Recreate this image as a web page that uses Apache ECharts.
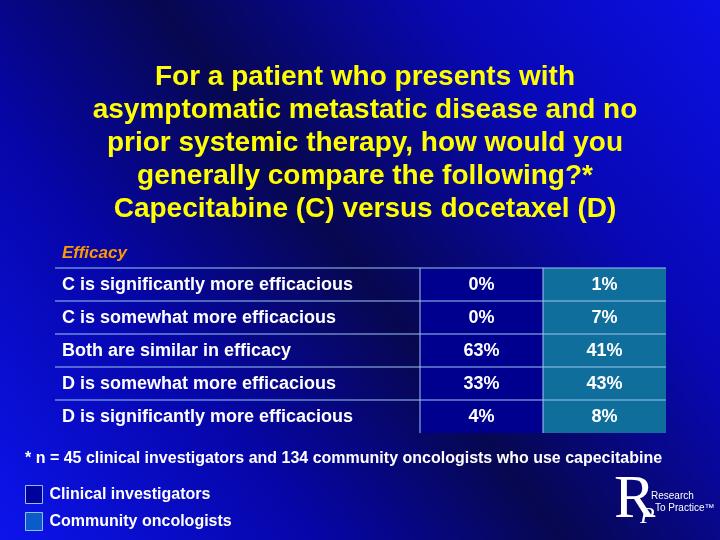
<!DOCTYPE html>
<html>
<head>
<meta charset="utf-8">
<script src="https://cdn.jsdelivr.net/npm/echarts@6/dist/echarts.min.js"></script>
<style>html,body{margin:0;padding:0;background:#000}#c{width:720px;height:540px}</style>
</head>
<body>
<div id="c"></div>
<script>
const titleText = 'For a patient who presents with\nasymptomatic metastatic disease and no\nprior systemic therapy, how would you\ngenerally compare the following?*\nCapecitabine (C) versus docetaxel (D)';
const sectionLabel = 'Efficacy';
const answers = [
  'C is significantly more efficacious',
  'C is somewhat more efficacious',
  'Both are similar in efficacy',
  'D is somewhat more efficacious',
  'D is significantly more efficacious'
];
const groups = ['Clinical investigators', 'Community oncologists'];
const clinicalValues = [0, 0, 63, 33, 4];
const communityValues = [1, 7, 41, 43, 8];
const footnote = '* n = 45 clinical investigators and 134 community oncologists who use capecitabine';

const LINE = '#9cc8f0';
const FONT = 'Liberation Sans, Arial, sans-serif';
const colFill = ['#00008e', '#0f6e9c'];
const legendFill = ['#00009a', '#0a5cc8'];

const chart = echarts.init(document.getElementById('c'), null, {renderer: 'canvas'});

function answerRender(params, api) {
  const p = api.coord([api.value(0), api.value(1)]);
  const s = api.size([1, 1]);
  const x0 = p[0] - s[0] / 2, y0 = p[1] - s[1] / 2;
  return {
    type: 'group',
    children: [
      {type: 'line', shape: {x1: x0, y1: y0, x2: x0 + s[0], y2: y0}, style: {stroke: LINE, lineWidth: 1}},
      {type: 'text', style: {x: x0 + 7, y: p[1] + 1, text: answers[api.value(1)], fill: '#ffffff',
        font: 'bold 18px ' + FONT, textAlign: 'left', textVerticalAlign: 'middle'}}
    ]
  };
}

function valueRender(colIdx) {
  return function (params, api) {
    const p = api.coord([api.value(0), api.value(1)]);
    const s = api.size([1, 1]);
    const x0 = p[0] - s[0] / 2, y0 = p[1] - s[1] / 2;
    return {
      type: 'group',
      children: [
        {type: 'rect', shape: {x: x0, y: y0, width: s[0], height: s[1]}, style: {fill: colFill[colIdx]}},
        {type: 'line', shape: {x1: x0, y1: y0, x2: x0 + s[0], y2: y0}, style: {stroke: LINE, lineWidth: 1}},
        {type: 'line', shape: {x1: x0, y1: y0, x2: x0, y2: y0 + s[1]}, style: {stroke: LINE, lineWidth: 1}},
        {type: 'text', style: {x: p[0], y: p[1] + 1, text: api.value(2) + '%', fill: '#ffffff',
          font: 'bold 18px ' + FONT, textAlign: 'center', textVerticalAlign: 'middle'}}
      ]
    };
  };
}

const rowIdx = answers.map((_, i) => i);

const option = {
  animation: false,
  backgroundColor: {
    type: 'linear', x: 1, y: 0, x2: 0, y2: 1,
    colorStops: [
      {offset: 0, color: '#0c10e4'},
      {offset: 0.25, color: '#0808b4'},
      {offset: 0.5, color: '#070750'},
      {offset: 0.72, color: '#0606a8'},
      {offset: 1, color: '#0c14ec'}
    ]
  },
  title: [
    {text: titleText, left: 360, top: 56, textAlign: 'center',
      textStyle: {color: '#ffff00', fontFamily: FONT, fontWeight: 'bold', fontSize: 28, lineHeight: 33,
        textShadowColor: 'rgba(0,0,0,0.85)', textShadowOffsetX: 2, textShadowOffsetY: 2, textShadowBlur: 0}},
    {text: sectionLabel, left: 57, top: 240,
      textStyle: {color: '#ff9900', fontFamily: FONT, fontWeight: 'bold', fontStyle: 'italic', fontSize: 17}},
    {text: footnote, left: 20, top: 446,
      textStyle: {color: '#ffffff', fontFamily: FONT, fontWeight: 'bold', fontSize: 16}}
  ],
  legend: {
    orient: 'vertical', left: 25, top: 485, itemWidth: 17, itemHeight: 18, itemGap: 8,
    padding: 0, icon: 'rect', selectedMode: false,
    textStyle: {color: '#ffffff', fontFamily: FONT, fontWeight: 'bold', fontSize: 16, padding: [0, 0, 0, 2]},
    data: groups.map((g, i) => ({name: g, itemStyle: {color: legendFill[i], borderColor: '#8fc0f0', borderWidth: 1}}))
  },
  grid: [
    {left: 55, top: 268, width: 365, height: 165},
    {left: 420, top: 268, width: 246, height: 165}
  ],
  xAxis: [
    {gridIndex: 0, type: 'category', data: ['Answer'], show: false},
    {gridIndex: 1, type: 'category', data: groups, show: false}
  ],
  yAxis: [
    {gridIndex: 0, type: 'category', data: rowIdx, inverse: true, show: false},
    {gridIndex: 1, type: 'category', data: rowIdx, inverse: true, show: false}
  ],
  series: [
    {type: 'custom', name: 'answers', xAxisIndex: 0, yAxisIndex: 0, renderItem: answerRender,
      data: rowIdx.map(i => [0, i])},
    {type: 'custom', name: groups[0], xAxisIndex: 1, yAxisIndex: 1, renderItem: valueRender(0),
      itemStyle: {color: legendFill[0]},
      data: clinicalValues.map((v, i) => [0, i, v])},
    {type: 'custom', name: groups[1], xAxisIndex: 1, yAxisIndex: 1, renderItem: valueRender(1),
      itemStyle: {color: legendFill[1]},
      data: communityValues.map((v, i) => [1, i, v])}
  ],
  graphic: [
    {type: 'text', left: 614, top: 470, style: {text: 'R', fill: '#ffffff', font: '62px "Liberation Serif", "DejaVu Serif", serif'}},
    {type: 'text', left: 640, top: 505, style: {text: 'P', fill: '#ffffff', font: 'italic 24px "Liberation Serif", serif'}},
    {type: 'text', left: 651, top: 491, style: {text: 'Research', fill: '#ffffff', font: '10px ' + FONT}},
    {type: 'text', left: 655, top: 503, style: {text: 'To Practice\u2122', fill: '#ffffff', font: '10px ' + FONT}}
  ]
};
chart.setOption(option);
</script>
</body>
</html>
